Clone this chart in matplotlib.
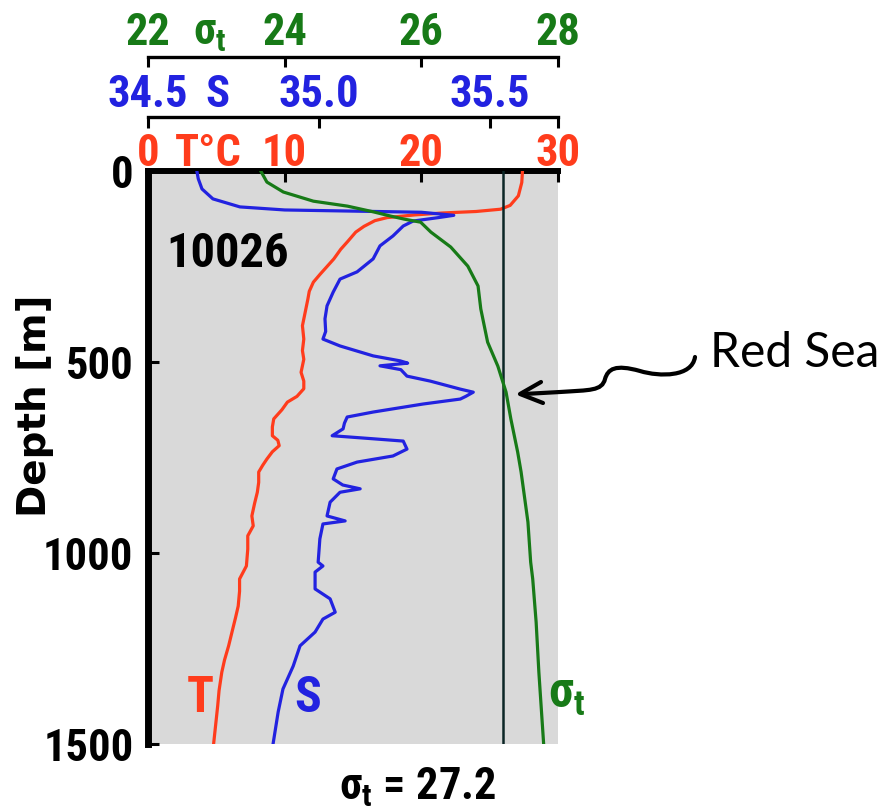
import matplotlib
matplotlib.use('Agg')
import matplotlib.pyplot as plt
from matplotlib import font_manager
from matplotlib.path import Path
from matplotlib.patches import PathPatch
from matplotlib.lines import Line2D

# ---------------- data ----------------
temp_depth = [0, 30, 65, 90, 100, 106, 110, 115, 122, 130, 145, 160, 185, 205, 230, 250, 270,
              291, 315, 335, 370, 405, 440, 470, 493, 510, 527, 550, 570, 590, 605, 625, 649,
              670, 693, 705, 719, 735, 754, 770, 788, 815, 841, 870, 903, 929, 955, 990, 1034,
              1068, 1100, 1139, 1170, 1199, 1243, 1280, 1312, 1360, 1400, 1450, 1500]
temp_values = [27.4, 27.35, 27.1, 26.5, 25.8, 24.0, 21.5, 19.5, 17.5, 16.6, 15.8, 15.2, 14.6,
               14.1, 13.6, 13.1, 12.6, 12.1, 11.8, 11.7, 11.5, 11.3, 11.4, 11.3, 11.4, 11.3,
               11.2, 11.4, 11.4, 10.9, 10.2, 9.8, 9.2, 9.1, 9.1, 9.5, 9.6, 9.1, 8.7, 8.4, 8.1,
               8.1, 8.0, 7.8, 7.6, 7.7, 7.3, 7.3, 7.2, 6.7, 6.7, 6.6, 6.4, 6.2, 5.9, 5.6, 5.4,
               5.2, 5.1, 4.95, 4.8]

sal_depth = [0, 20, 47, 73, 94, 102, 105, 108, 116, 122, 131, 144, 170, 196, 230, 264, 283,
             317, 353, 387, 420, 440, 458, 484, 497, 503, 510, 520, 537, 550, 571, 579, 590,
             597, 610, 631, 644, 660, 675, 693, 701, 707, 728, 746, 762, 780, 806, 822, 832,
             841, 867, 903, 916, 924, 963, 1000, 1024, 1034, 1050, 1094, 1120, 1155, 1173,
             1207, 1243, 1296, 1356, 1416, 1500]
sal_values = [34.643, 34.647, 34.658, 34.690, 34.769, 34.90, 35.10, 35.30, 35.395, 35.35,
              35.276, 35.247, 35.217, 35.179, 35.159, 35.112, 35.062, 35.042, 35.024, 35.018,
              35.02, 35.012, 35.062, 35.159, 35.238, 35.26, 35.179, 35.24, 35.258, 35.326,
              35.414, 35.452, 35.43, 35.414, 35.305, 35.159, 35.083, 35.075, 35.071, 35.039,
              35.159, 35.247, 35.258, 35.217, 35.112, 35.053, 35.042, 35.07, 35.121, 35.062,
              35.033, 35.024, 35.077, 35.012, 35.003, 35.0, 34.998, 35.012, 34.989, 34.989,
              35.033, 35.048, 35.012, 34.989, 34.945, 34.925, 34.895, 34.881, 34.866]

sigma_depth = [0, 29, 55, 79, 92, 107, 118, 126, 134, 160, 199, 249, 301, 361, 448, 511, 579,
               649, 736, 788, 919, 1024, 1068, 1181, 1312, 1500]
sigma_values = [23.65, 23.74, 23.98, 24.42, 24.92, 25.30, 25.55, 25.75, 25.99, 26.14, 26.43,
                26.68, 26.83, 26.87, 26.97, 27.12, 27.24, 27.31, 27.41, 27.46, 27.56, 27.60,
                27.63, 27.68, 27.72, 27.79]

sigma_ref = 27.2
station_id = '10026'

temp_ticks = [0, 10, 20, 30]
temp_ticklabels = ['0', '10', '20', '30']
sal_ticks = [34.5, 35.0, 35.5, 35.7]
sal_ticklabels = ['34.5', '35.0', '35.5', '']
sigma_ticks = [22, 24, 26, 28]
sigma_ticklabels = ['22', '24', '26', '28']
depth_ticks = [0, 500, 1000, 1500]
depth_ticklabels = ['0', '500', '1000', '1500']

# ---------------- style ----------------
W, H, DPI = 895, 812, 100
RED = '#ff3c1c'
BLUE = '#2222e0'
GREEN = '#177a17'
BG = '#d9d9d9'

available = {f.name for f in font_manager.fontManager.ttflist}
if 'Liberation Sans Narrow' in available:
    NUM_FAMILY = ['Liberation Sans Narrow', 'DejaVu Sans']
    NUM_SIZE = 32
elif 'Roboto Condensed' in available:
    NUM_FAMILY = ['Roboto Condensed', 'DejaVu Sans']
    NUM_SIZE = 32
else:
    NUM_FAMILY = ['Liberation Sans', 'DejaVu Sans']
    NUM_SIZE = 29

plt.rcParams['font.family'] = NUM_FAMILY
plt.rcParams['font.weight'] = 'bold'
plt.rcParams['mathtext.fontset'] = 'custom'
plt.rcParams['mathtext.rm'] = NUM_FAMILY[0] + ':bold'
plt.rcParams['mathtext.it'] = NUM_FAMILY[0] + ':bold'
plt.rcParams['mathtext.bf'] = NUM_FAMILY[0] + ':bold'

PX = 72.0 / DPI  # points per pixel
DESC = 0.212 * NUM_SIZE / PX  # descent in px


def pad_for(gap_px):
    return (gap_px - DESC) * PX


fig = plt.figure(figsize=(W / DPI, H / DPI), dpi=DPI)
L_PX, R_PX, T_PX, B_PX = 148, 558, 172, 745
ax = fig.add_axes([L_PX / W, 1 - B_PX / H, (R_PX - L_PX) / W, (B_PX - T_PX) / H])
ax.set_facecolor(BG)
ax.set_xlim(0, 30)
ax.set_ylim(1500, 0)

axS = ax.twiny()
axG = ax.twiny()
axS.set_xlim(34.5, 35.7)
axG.set_xlim(22, 28)

# curves
axG.axvline(sigma_ref, color='#0b2626', lw=1.8, zorder=1)
axG.plot(sigma_values, sigma_depth, color=GREEN, lw=2.3, zorder=2)
axS.plot(sal_values, sal_depth, color=BLUE, lw=2.3, zorder=3)
ax.plot(temp_values, temp_depth, color=RED, lw=2.3, zorder=4)

# spines
ax.spines['right'].set_visible(False)
ax.spines['bottom'].set_visible(False)
ax.spines['left'].set_linewidth(5)
ax.spines['top'].set_linewidth(4.3)
for a in (axS, axG):
    for s in ('left', 'right', 'bottom'):
        a.spines[s].set_visible(False)
    a.spines['top'].set_linewidth(2.4)
S_OUT = T_PX - 118
G_OUT = T_PX - 58
axS.spines['top'].set_position(('outward', S_OUT * PX))
axG.spines['top'].set_position(('outward', G_OUT * PX))

# baselines of labels above each line (px above line)
T_GAP, S_GAP, G_GAP = 6, 11, 13

ax.xaxis.tick_top()
ax.set_xticks(temp_ticks, labels=temp_ticklabels)
ax.tick_params(axis='x', top=True, bottom=False, labeltop=True, labelbottom=False,
               direction='in', length=8, width=2.2, color='black', labelcolor=RED,
               labelsize=NUM_SIZE, pad=pad_for(T_GAP))
ax.set_yticks(depth_ticks, labels=depth_ticklabels)
ax.tick_params(axis='y', left=True, right=False, direction='in', length=8, width=2.2,
               labelsize=NUM_SIZE, pad=10.5, labelcolor='black')

axS.set_xticks(sal_ticks, labels=sal_ticklabels)
axS.tick_params(axis='x', top=True, bottom=False, labeltop=True, labelbottom=False,
                direction='in', length=8, width=2.2, color='black', labelcolor=BLUE,
                labelsize=NUM_SIZE, pad=pad_for(S_GAP))
axG.set_xticks(sigma_ticks, labels=sigma_ticklabels)
axG.tick_params(axis='x', top=True, bottom=False, labeltop=True, labelbottom=False,
                direction='in', length=7, width=2.2, color='black', labelcolor=GREEN,
                labelsize=NUM_SIZE, pad=pad_for(G_GAP))

# axis names next to first tick label
ax.annotate('T°C', xy=(0.147, 1), xycoords='axes fraction', xytext=(0, T_GAP * PX),
            textcoords='offset points', ha='center', va='baseline', color=RED,
            fontsize=NUM_SIZE)
ax.annotate('S', xy=(0.17, 1), xycoords='axes fraction', xytext=(0, (S_OUT + S_GAP) * PX),
            textcoords='offset points', ha='center', va='baseline', color=BLUE,
            fontsize=NUM_SIZE)
ax.annotate(r'σ$_\mathregular{t}$', xy=(0.15, 1), xycoords='axes fraction',
            xytext=(0, (G_OUT + G_GAP) * PX), textcoords='offset points', ha='center',
            va='baseline', color=GREEN, fontsize=NUM_SIZE)

# curve labels
ax.text(3.8, 1414, 'T', color=RED, ha='center', va='baseline', fontsize=NUM_SIZE * 1.12)
axS.text(34.966, 1414, 'S', color=BLUE, ha='center', va='baseline', fontsize=NUM_SIZE * 1.12)
axG.text(27.85, 1403, r'σ$_\mathregular{t}$', color=GREEN, ha='left', va='baseline',
         fontsize=NUM_SIZE * 1.12, clip_on=False)

ax.text(0.195, 1 - (267 - T_PX) / (B_PX - T_PX), station_id, transform=ax.transAxes,
        ha='center', va='baseline', fontsize=NUM_SIZE * 1.09, color='black')

fig.text(418 / W, 1 - 800 / H, r'σ$_\mathregular{t}$ = 27.2', ha='center', va='baseline',
         fontsize=NUM_SIZE, color='black')

fig.text(35 / W, 1 - 406 / H, 'Depth [m]', rotation=90, ha='center', va='center',
         family=['DejaVu Sans'], fontweight='bold', fontsize=28)

# Red Sea annotation
fig.text(710 / W, 1 - 367 / H, 'Red Sea', ha='left', va='baseline',
         family=['Lato', 'DejaVu Sans'], fontweight='normal', fontsize=34.5)


def P(x, y):
    return (x / W, 1 - y / H)


verts = [P(695, 358), P(692, 378), P(660, 378), P(640, 372), P(615, 365), P(608, 370),
         P(605, 380), P(602, 392), P(590, 391), P(560, 393), P(524, 395)]
codes = [Path.MOVETO] + [Path.CURVE4] * 9 + [Path.LINETO]
fig.patches.append(PathPatch(Path(verts, codes), transform=fig.transFigure, fill=False,
                             lw=3, edgecolor='black', capstyle='round'))
head = [P(541, 383), P(520, 395), P(543, 404)]
fig.lines.append(Line2D([p[0] for p in head], [p[1] for p in head], transform=fig.transFigure,
                        color='black', lw=3, solid_capstyle='round', solid_joinstyle='round'))

fig.savefig('out.png', dpi=DPI)
